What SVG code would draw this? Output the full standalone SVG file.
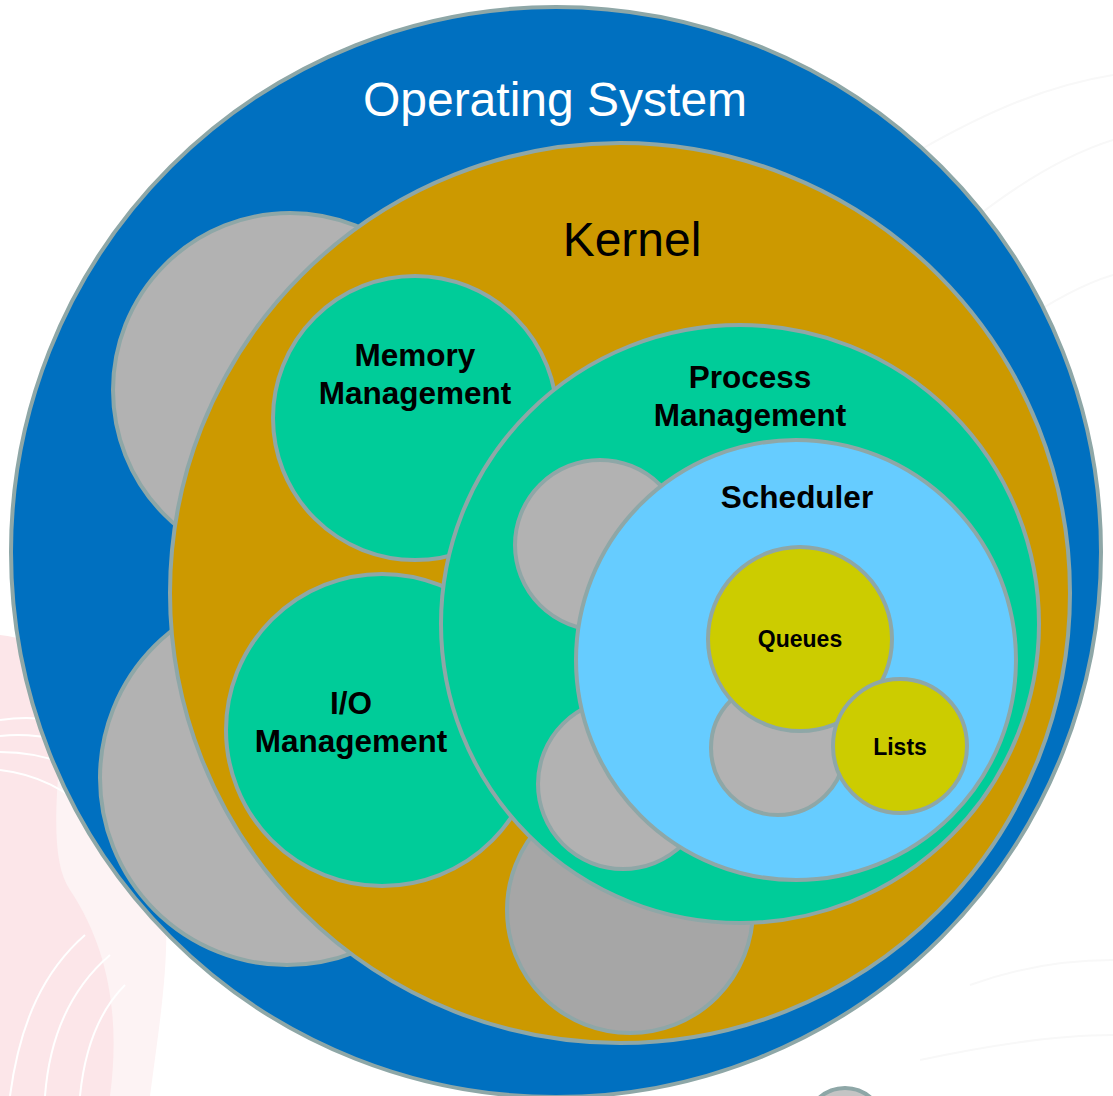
<svg xmlns="http://www.w3.org/2000/svg" width="1113" height="1096" viewBox="0 0 1113 1096">
  <style>
    .ring { stroke: #8EA7A7; stroke-width: 4; }
    .os { fill: #0070C0; }
    .kernel { fill: #CC9900; }
    .green { fill: #00CC99; }
    .sched { fill: #66CCFF; }
    .yellow { fill: #CCCC00; }
    .gray { fill: #B2B2B2; }
    .gray2 { fill: #A6A6A6; }
    .title { font-family: "Liberation Sans", Arial, sans-serif; font-size: 48px; text-anchor: middle; }
    .lbl { font-family: "Liberation Sans", Arial, sans-serif; font-weight: bold; font-size: 31.5px; text-anchor: middle; fill: #000; }
    .small { font-family: "Liberation Sans", Arial, sans-serif; font-weight: bold; font-size: 23px; text-anchor: middle; fill: #000; }
    .wm { fill: none; stroke: #FFFFFF; stroke-width: 2; }
    .faint { fill: none; stroke: #F8F8F8; stroke-width: 2; }
  </style>

  <rect width="1113" height="1096" fill="#FFFFFF"/>

  <!-- background watermark: pale flower at lower left, faint strokes at right -->
  <g id="background">
    <path d="M0 635 C40 640 80 660 110 690 C150 740 165 820 165 900 C165 980 150 1050 135 1096 L0 1096 Z" fill="#FCE6E9"/>
    <path d="M65 700 C90 690 110 700 120 720 L165 900 C170 960 160 1020 150 1096 L110 1096 C120 1020 110 950 70 890 C50 860 55 800 65 700 Z" fill="#FDF3F4"/>
    <path class="wm" d="M0 720 C40 714 80 722 110 740"/>
    <path class="wm" d="M0 736 C40 732 80 742 112 760"/>
    <path class="wm" d="M0 752 C40 752 75 764 105 785"/>
    <path class="wm" d="M0 770 C35 774 70 790 90 815"/>
    <path class="wm" d="M10 1096 C20 1020 45 970 85 935"/>
    <path class="wm" d="M45 1096 C50 1030 75 985 110 955"/>
    <path class="wm" d="M80 1096 C85 1045 100 1010 125 985"/>
    <path class="faint" d="M920 150 C990 110 1050 85 1113 75"/>
    <path class="faint" d="M960 230 C1015 185 1065 155 1113 140"/>
    <path class="faint" d="M1010 330 C1045 305 1080 285 1113 275"/>
    <path class="faint" d="M920 1060 C990 1045 1055 1035 1113 1035"/>
    <path class="faint" d="M970 985 C1025 965 1075 960 1113 960"/>
  </g>

  <g id="os-node">
    <circle class="ring os" cx="556" cy="552" r="545"/>
    <text class="title" x="555" y="116" fill="#FFFFFF">Operating System</text>
  </g>

  <g id="os-extra-1"><circle class="ring gray" cx="290" cy="390" r="177"/></g>
  <g id="os-extra-2"><circle class="ring gray" cx="287" cy="778" r="187"/></g>

  <g id="kernel-node">
    <circle class="ring kernel" cx="620" cy="593" r="450"/>
    <text class="title" x="632" y="256" fill="#000000">Kernel</text>
  </g>

  <g id="kernel-extra"><circle class="ring gray2" cx="630" cy="910" r="123"/></g>

  <g id="memory-node">
    <circle class="ring green" cx="415" cy="418" r="142"/>
    <text class="lbl" x="415" y="366">Memory</text>
    <text class="lbl" x="415" y="404">Management</text>
  </g>

  <g id="io-node">
    <circle class="ring green" cx="382" cy="730" r="156"/>
    <text class="lbl" x="351" y="714">I/O</text>
    <text class="lbl" x="351" y="752">Management</text>
  </g>

  <g id="process-node">
    <circle class="ring green" cx="740" cy="624" r="299"/>
    <text class="lbl" x="750" y="388">Process</text>
    <text class="lbl" x="750" y="426">Management</text>
  </g>

  <g id="process-extra-1"><circle class="ring gray" cx="600" cy="545" r="85"/></g>
  <g id="process-extra-2"><circle class="ring gray" cx="623" cy="784" r="85"/></g>

  <g id="scheduler-node">
    <circle class="ring sched" cx="796" cy="660" r="220"/>
    <text class="lbl" x="797" y="508">Scheduler</text>
  </g>

  <g id="scheduler-extra"><circle class="ring gray" cx="778" cy="748" r="67"/></g>

  <g id="queues-node">
    <circle class="ring yellow" cx="800" cy="639" r="92"/>
    <text class="small" x="800" y="647">Queues</text>
  </g>

  <g id="lists-node">
    <circle class="ring yellow" cx="900" cy="746" r="67"/>
    <text class="small" x="900" y="755">Lists</text>
  </g>

  <g id="corner-node"><circle class="ring" fill="#C4C4C4" cx="845" cy="1127" r="39"/></g>

  <!-- the diagram nests its parts; it has no connector lines -->
  <g id="connectors"/>
</svg>
